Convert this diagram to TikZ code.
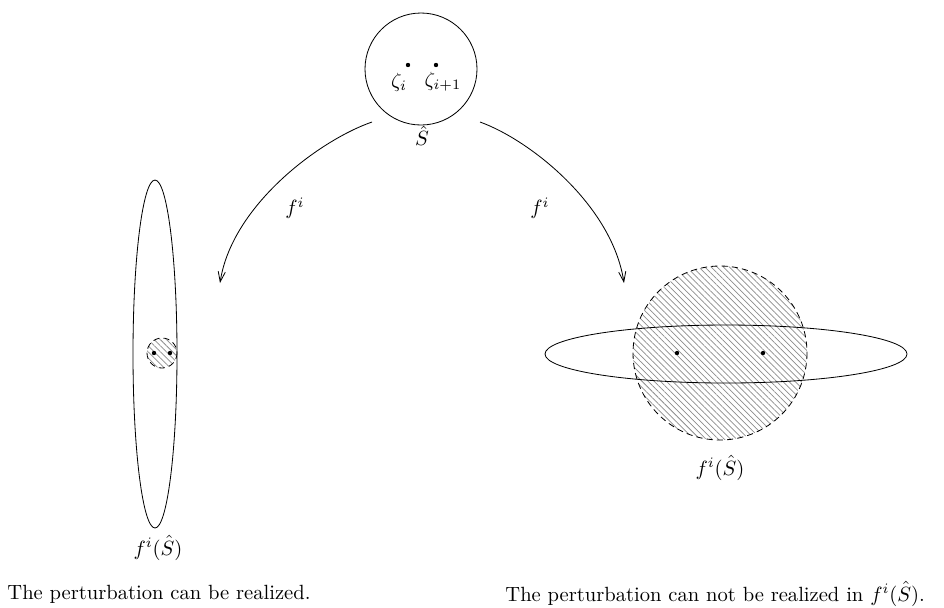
\documentclass[tikz,border=0pt]{standalone}
\usepackage{amsmath,amssymb}
\usetikzlibrary{positioning,arrows.meta,patterns.meta}

\begin{document}
\begin{tikzpicture}[x=0.486pt,y=-0.486pt,
  dot/.style={circle,fill,inner sep=0.75pt},
  hatched/.style={densely dashed,pattern={Lines[angle=-45,distance=2.1pt,line width=0.35pt]},pattern color=gray!90},
  mapto/.style={-{Straight Barb[length=5pt,width=3.5pt]}}]
\useasboundingbox (0,0) rectangle (944,607);
% source disc
\draw (421,69) circle (56);
\node[dot] (p1) at (408,65) {};
\node[dot] (p2) at (436,65) {};
\node (zi) at (399,82) {$\zeta_i$};
\node (zj) at (443,82) {$\zeta_{i+1}$};
\node (Shat) at (422,136) {$\hat{S}$};
\coordinate (la) at (372,122);
\coordinate (ra) at (480,122);
% left image
\draw (155,354) ellipse (22 and 174);
\draw[hatched] (162,353) circle (15);
\node[dot] (q1) at (154,353) {};
\node[dot] (q2) at (170,353) {};
\node (lS) at (158,548) {$f^i(\hat{S})$};
\coordinate (lb) at (220,283);
% right image
\draw[hatched] (720,353) circle (87);
\draw (726,354) ellipse (181 and 29);
\node[dot] (r1) at (677,353) {};
\node[dot] (r2) at (763,353) {};
\node (rS) at (720,468) {$f^i(\hat{S})$};
\coordinate (rb) at (624,283);
% maps
\draw[mapto] (la) .. controls (320,140) and (232,205) .. (lb);
\draw[mapto] (ra) .. controls (530,140) and (612,205) .. (rb);
\node (lf) at (295,208) {$f^i$};
\node (rf) at (540,208) {$f^i$};
% captions
\node[anchor=west,inner sep=0pt] (lcap) at (7,594) {The perturbation can be realized.};
\node[anchor=west,inner sep=0pt] (rcap) at (505,594) {The perturbation can not be realized in $f^i(\hat{S})$.};
\end{tikzpicture}
\end{document}
